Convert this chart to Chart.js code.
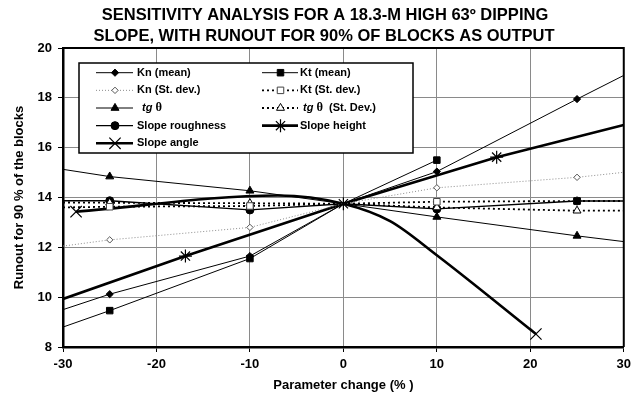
<!DOCTYPE html>
<html><head><meta charset="utf-8">
<script src="https://cdn.jsdelivr.net/npm/chart.js@4.4.1/dist/chart.umd.min.js"></script>
<style>html,body{margin:0;padding:0;background:#fff}#wrap{width:636px;height:404px}</style>
</head><body><div id="wrap"><canvas id="c" width="636" height="404"></canvas></div>
<script>
// ---------- data ----------
const titleLines = ['SENSITIVITY ANALYSIS FOR A 18.3-M HIGH 63º DIPPING', 'SLOPE, WITH RUNOUT FOR 90% OF BLOCKS AS OUTPUT'];
const xAxisTitle = 'Parameter change (% )';
const yAxisTitle = 'Runout for 90 % of the blocks';
const xTicks = [-30, -20, -10, 0, 10, 20, 30];
const yTicks = [8, 10, 12, 14, 16, 18, 20];

const paramX   = [-30, -25, -10, 0, 10, 25, 30];
const knMean   = [9.5, 10.12, 11.65, 13.75, 15.04, 17.95, 18.9];
const knSd     = [12.05, 12.3, 12.8, 13.75, 14.39, 14.81, 15.01];
const ktSd     = [13.6, 13.63, 13.66, 13.75, 13.83, 13.86, 13.86];
const tgMean   = [15.13, 14.84, 14.27, 13.75, 13.22, 12.46, 12.23];
const tgSd     = [13.8, 13.79, 13.77, 13.75, 13.6, 13.47, 13.47];
const rough    = [13.87, 13.87, 13.5, 13.75, 13.54, 13.86, 13.86];

const ktX      = [-30, -25, -10, 0, 10, 20, 25];
const ktMean   = [8.8, 9.46, 11.55, 13.75, 15.5, null, 13.86];

const heightX  = [-30, -16.9, 0, 16.4, 30];
const height   = [9.93, 11.65, 13.75, 15.62, 16.91];

const angleX   = [-28.6, -7, 0, 5, 10, 20.6];
const angle    = [13.43, 14.08, 13.75, 13.05, 11.68, 8.52];

const labels = ['Kn (mean)', 'Kt (mean)', 'Kn (St. dev.)', 'Kt (St. dev.)', 'tg θ', 'tg θ  (St. Dev.)', 'Slope roughness', 'Slope height', 'Slope angle'];

// ---------- build ----------
const pts = (xs, ys) => xs.map((x, i) => ({x: x, y: ys[i]}));
const FONT = '"Liberation Sans", Arial, sans-serif';

function mk(label, data, st) {
  const marks = st.marks;
  const r = st.radius;
  return Object.assign({
    label: label, data: data, fill: false, tension: 0, spanGaps: false,
    borderColor: '#000', backgroundColor: '#000',
    pointBorderColor: '#000', pointBackgroundColor: '#000',
    pointBorderWidth: 1, pointHoverRadius: 0,
    pointRadius: (ctx) => (ctx.parsed && marks.indexOf(ctx.parsed.x) >= 0) ? r : 0
  }, st);
}
const stdMarks = [-25, -10, 10, 25];

const datasets = [
  mk(labels[0], pts(paramX, knMean), {marks: stdMarks, radius: 3.6, pointStyle: 'rectRot', borderWidth: 1}),
  mk(labels[1], pts(ktX, ktMean), {marks: stdMarks, radius: 4.6, pointStyle: 'rect', borderWidth: 1}),
  mk(labels[2], pts(paramX, knSd), {marks: stdMarks, radius: 3.2, pointStyle: 'rectRot', borderWidth: 1, borderColor: '#8c8c8c', borderDash: [1, 2], pointBackgroundColor: '#fff', pointBorderColor: '#555'}),
  mk(labels[3], pts(paramX, ktSd), {marks: stdMarks, radius: 4.6, pointStyle: 'rect', borderWidth: 1.8, borderDash: [2, 3], pointBackgroundColor: '#fff', pointBorderColor: '#444'}),
  mk(labels[4], pts(paramX, tgMean), {marks: stdMarks, radius: 4.6, pointStyle: 'triangle', borderWidth: 1}),
  mk(labels[5], pts(paramX, tgSd), {marks: stdMarks, radius: 4.6, pointStyle: 'triangle', borderWidth: 1.8, borderDash: [2, 3], pointBackgroundColor: '#fff', pointBorderColor: '#000'}),
  mk(labels[6], pts(paramX, rough), {marks: stdMarks, radius: 4, pointStyle: 'circle', borderWidth: 1.3}),
  mk(labels[7], pts(heightX, height), {marks: [-16.9, 0, 16.4], radius: 6.5, pointStyle: 'star', borderWidth: 2.6, pointBorderWidth: 1.2}),
  mk(labels[8], pts(angleX, angle), {marks: [-28.6, 20.6], radius: 8, pointStyle: 'crossRot', borderWidth: 2.6, pointBorderWidth: 1.2, cubicInterpolationMode: 'monotone'})
];

// ---------- plugin: title, frame, legend ----------
const decor = {
  id: 'decor',
  afterDraw(chart) {
    const ctx = chart.ctx;
    const ca = chart.chartArea;
    ctx.save();
    // frame top/right
    ctx.strokeStyle = '#000';
    ctx.lineWidth = 2;
    ctx.beginPath();
    ctx.moveTo(ca.left, ca.top); ctx.lineTo(ca.right, ca.top); ctx.lineTo(ca.right, ca.bottom);
    ctx.stroke();
    // title
    ctx.fillStyle = '#000';
    ctx.font = 'bold 16.5px ' + FONT;
    ctx.textAlign = 'center';
    ctx.textBaseline = 'middle';
    ctx.fillText(titleLines[0], 325, 15);
    ctx.fillText(titleLines[1], 324, 36);
    // legend
    const bx = 79, by = 63, bw = 334, bh = 90;
    ctx.fillStyle = '#fff';
    ctx.fillRect(bx, by, bw, bh);
    ctx.strokeStyle = '#000';
    ctx.lineWidth = 1.5;
    ctx.strokeRect(bx, by, bw, bh);
    const order = [[0, 1], [2, 3], [4, 5], [6, 7], [8]];
    const cols = [{x0: 96, x1: 133, tx: 137}, {x0: 262, x1: 298, tx: 300}];
    const rowY = (i) => 72.7 + i * 17.65;
    order.forEach((row, ri) => {
      row.forEach((di, ci) => {
        const ds = datasets[di];
        const c = cols[ci];
        const y = rowY(ri);
        ctx.save();
        ctx.strokeStyle = ds.borderColor;
        ctx.lineWidth = ds.borderWidth;
        ctx.setLineDash(ds.borderDash || []);
        ctx.beginPath(); ctx.moveTo(c.x0, y); ctx.lineTo(c.x1, y); ctx.stroke();
        ctx.setLineDash([]);
        ctx.fillStyle = ds.pointBackgroundColor;
        ctx.strokeStyle = ds.pointBorderColor;
        ctx.lineWidth = ds.pointBorderWidth;
        const mx = (c.x0 + c.x1) / 2 + 0.5;
        Chart.helpers.drawPoint(ctx, {pointStyle: ds.pointStyle, radius: ds.radius, rotation: 0, borderWidth: ds.pointBorderWidth}, mx, y);
        ctx.restore();
        // text
        ctx.fillStyle = '#000';
        ctx.textAlign = 'left';
        ctx.textBaseline = 'middle';
        const lab = ds.label;
        if (lab.indexOf('tg θ') === 0) {
          let x = c.tx + (ci === 0 ? 5 : 3);
          ctx.font = 'italic bold 11px ' + FONT;
          ctx.fillText('tg', x, y);
          x += ctx.measureText('tg ').width;
          ctx.font = 'bold 12.5px "Liberation Serif", serif';
          ctx.fillText('θ', x, y);
          x += ctx.measureText('θ').width;
          ctx.font = 'bold 11px ' + FONT;
          ctx.fillText(lab.slice(4), x, y);
        } else {
          ctx.font = 'bold 11px ' + FONT;
          ctx.fillText(lab, c.tx, y);
        }
      });
    });
    ctx.restore();
  }
};

new Chart(document.getElementById('c'), {
  type: 'line',
  data: {datasets: datasets},
  plugins: [decor],
  options: {
    responsive: false,
    animation: false,
    devicePixelRatio: 1,
    events: [],
    layout: {padding: {top: 48, right: 7, left: 0, bottom: 0}},
    plugins: {legend: {display: false}, title: {display: false}, tooltip: {enabled: false}},
    elements: {line: {borderCapStyle: 'butt'}},
    scales: {
      x: {
        type: 'linear', min: xTicks[0], max: xTicks[xTicks.length - 1],
        afterBuildTicks: (s) => { s.ticks = xTicks.map(v => ({value: v})); },
        afterFit: (s) => { s.height = 57; },
        border: {display: true, color: '#000', width: 2.5},
        grid: {color: '#8a8a8a', lineWidth: 1, tickLength: 5, tickColor: '#000', drawTicks: true},
        ticks: {color: '#000', font: {family: FONT, size: 13, weight: 'bold'}, padding: 5, maxRotation: 0},
        title: {display: true, text: xAxisTitle, color: '#000', font: {family: FONT, size: 13, weight: 'bold'}, padding: {top: 0, bottom: 11}}
      },
      y: {
        type: 'linear', min: yTicks[0], max: yTicks[yTicks.length - 1],
        afterBuildTicks: (s) => { s.ticks = yTicks.map(v => ({value: v})); },
        afterFit: (s) => { s.width = 63; },
        border: {display: true, color: '#000', width: 2.5},
        grid: {color: '#8a8a8a', lineWidth: 1, tickLength: 5, tickColor: '#000', drawTicks: true},
        ticks: {color: '#000', font: {family: FONT, size: 13, weight: 'bold'}, padding: 6},
        title: {display: true, text: yAxisTitle, color: '#000', font: {family: FONT, size: 13, weight: 'bold'}, padding: {top: 12, bottom: 0}}
      }
    }
  }
});
</script>
</body></html>
